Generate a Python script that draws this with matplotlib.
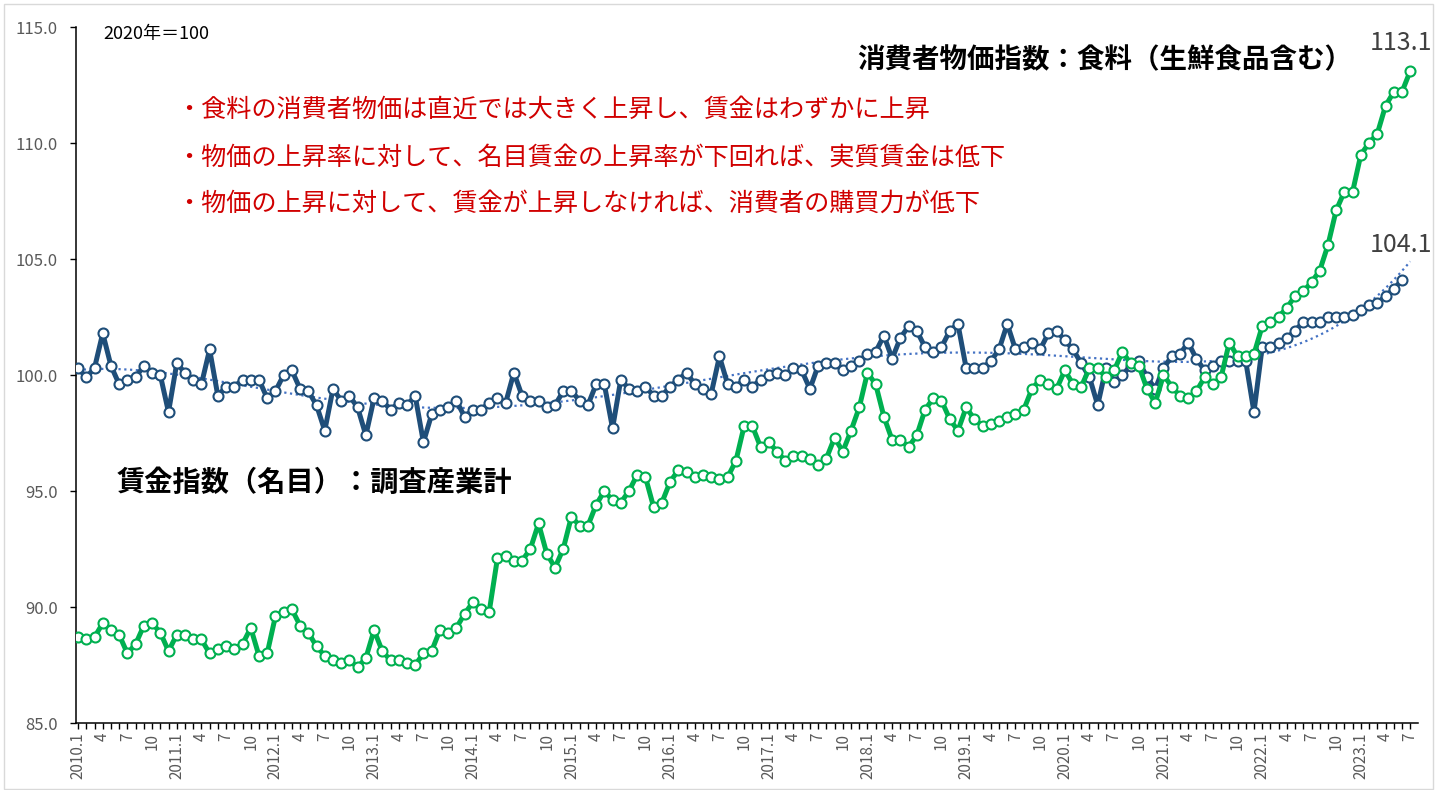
import numpy as np
import matplotlib
matplotlib.use("Agg")
import matplotlib.pyplot as plt
from matplotlib.patches import Rectangle

plt.rcParams['font.family'] = ['Noto Sans CJK JP', 'DejaVu Sans']

# ---------------- data ----------------
start_year = 2010

# 賃金指数（名目）：調査産業計  2010.1 - 2023.6
wage = [
    100.3, 99.9, 100.3, 101.8, 100.4, 99.6, 99.8, 99.9, 100.4, 100.1, 100.0, 98.4,   # 2010
    100.5, 100.1, 99.8, 99.6, 101.1, 99.1, 99.5, 99.5, 99.8, 99.8, 99.8, 99.0,       # 2011
    99.3, 100.0, 100.2, 99.4, 99.3, 98.7, 97.6, 99.4, 98.9, 99.1, 98.6, 97.4,        # 2012
    99.0, 98.9, 98.5, 98.8, 98.7, 99.1, 97.1, 98.3, 98.5, 98.6, 98.9, 98.2,          # 2013
    98.5, 98.5, 98.8, 99.0, 98.8, 100.1, 99.1, 98.9, 98.9, 98.6, 98.7, 99.3,         # 2014
    99.3, 98.9, 98.7, 99.6, 99.6, 97.7, 99.8, 99.4, 99.3, 99.5, 99.1, 99.1,          # 2015
    99.5, 99.8, 100.1, 99.6, 99.4, 99.2, 100.8, 99.6, 99.5, 99.8, 99.5, 99.8,        # 2016
    100.0, 100.1, 100.0, 100.3, 100.2, 99.4, 100.4, 100.5, 100.5, 100.2, 100.4, 100.6,  # 2017
    100.9, 101.0, 101.7, 100.7, 101.6, 102.1, 101.9, 101.2, 101.0, 101.2, 101.9, 102.2,  # 2018
    100.3, 100.3, 100.3, 100.6, 101.1, 102.2, 101.1, 101.2, 101.4, 101.1, 101.8, 101.9,  # 2019
    101.5, 101.1, 100.5, 99.9, 98.7, 100.3, 99.7, 100.0, 100.4, 100.6, 99.9, 99.4,   # 2020
    100.3, 100.8, 100.9, 101.4, 100.7, 100.2, 100.4, 100.6, 100.6, 100.6, 100.6, 98.4,  # 2021
    101.2, 101.2, 101.4, 101.6, 101.9, 102.3, 102.3, 102.3, 102.5, 102.5, 102.5, 102.6,  # 2022
    102.8, 103.0, 103.1, 103.4, 103.7, 104.1,                                          # 2023
]

# 消費者物価指数：食料（生鮮食品含む）  2010.1 - 2023.7
food_cpi = [
    88.7, 88.6, 88.7, 89.3, 89.0, 88.8, 88.0, 88.4, 89.2, 89.3, 88.9, 88.1,   # 2010
    88.8, 88.8, 88.6, 88.6, 88.0, 88.2, 88.3, 88.2, 88.4, 89.1, 87.9, 88.0,   # 2011
    89.6, 89.8, 89.9, 89.2, 88.9, 88.3, 87.9, 87.7, 87.6, 87.7, 87.4, 87.8,   # 2012
    89.0, 88.1, 87.7, 87.7, 87.6, 87.5, 88.0, 88.1, 89.0, 88.9, 89.1, 89.7,   # 2013
    90.2, 89.9, 89.8, 92.1, 92.2, 92.0, 92.0, 92.5, 93.6, 92.3, 91.7, 92.5,   # 2014
    93.9, 93.5, 93.5, 94.4, 95.0, 94.6, 94.5, 95.0, 95.7, 95.6, 94.3, 94.5,   # 2015
    95.4, 95.9, 95.8, 95.6, 95.7, 95.6, 95.5, 95.6, 96.3, 97.8, 97.8, 96.9,   # 2016
    97.1, 96.7, 96.3, 96.5, 96.5, 96.4, 96.1, 96.4, 97.3, 96.7, 97.6, 98.6,   # 2017
    100.1, 99.6, 98.2, 97.2, 97.2, 96.9, 97.4, 98.5, 99.0, 98.9, 98.1, 97.6,  # 2018
    98.6, 98.1, 97.8, 97.9, 98.0, 98.2, 98.3, 98.5, 99.4, 99.8, 99.6, 99.4,   # 2019
    100.2, 99.6, 99.5, 100.3, 100.3, 99.9, 100.2, 101.0, 100.5, 100.4, 99.4, 98.8,   # 2020
    100.0, 99.5, 99.1, 99.0, 99.3, 99.9, 99.6, 99.9, 101.4, 100.8, 100.8, 100.9,     # 2021
    102.1, 102.3, 102.5, 102.9, 103.4, 103.6, 104.0, 104.5, 105.6, 107.1, 107.9, 107.9,  # 2022
    109.5, 110.0, 110.4, 111.6, 112.2, 112.2, 113.1,                                  # 2023
]

y_ticks = [85.0, 90.0, 95.0, 100.0, 105.0, 110.0, 115.0]

# ---------------- figure ----------------
W, H = 1435, 790
fig = plt.figure(figsize=(W / 100, H / 100), dpi=100)
fig.patch.set_facecolor('white')
fig.patches.append(Rectangle((4 / W, 1 / H), (W - 6) / W, (H - 5) / H,
                             transform=fig.transFigure, fill=False,
                             edgecolor='#D9D9D9', linewidth=1.0))

ax = fig.add_axes([76 / W, 67 / H, (1418 - 76) / W, 696 / H])

n_food = len(food_cpi)
x_wage = np.arange(len(wage))
x_food = np.arange(n_food)

# polynomial trend line of wage (Excel-style order-6 trendline)
poly = np.polynomial.Polynomial.fit(x_wage, wage, 6)
x_tr = np.linspace(0, n_food - 1, 400)
ax.plot(x_tr, poly(x_tr), linestyle=(0, (1, 1.6)), color='#4472C4',
        linewidth=1.6, zorder=2)

navy = '#1F4E79'
green = '#00B050'
ax.plot(x_wage, wage, color=navy, linewidth=3.6, marker='o', markersize=7.2,
        markerfacecolor='white', markeredgecolor=navy, markeredgewidth=1.5,
        zorder=3)
ax.plot(x_food, food_cpi, color=green, linewidth=3.6, marker='o', markersize=7.2,
        markerfacecolor='white', markeredgecolor=green, markeredgewidth=1.5,
        zorder=4)

ax.set_ylim(85, 115)
ax.set_xlim(-0.25, n_food - 1 + 0.95)
ax.set_yticks(y_ticks)
ax.set_yticklabels([f'{v:.1f}' for v in y_ticks])

# x ticks: every month, labels every 3 months
ax.set_xticks(np.arange(n_food), minor=True)
maj = np.arange(0, n_food, 3)
labels = []
for k in maj:
    yy = start_year + k // 12
    mm = k % 12 + 1
    labels.append(f'{yy}.1' if mm == 1 else str(mm))
ax.set_xticks(maj)
ax.set_xticklabels(labels, rotation=90)

for s in ['top', 'right']:
    ax.spines[s].set_visible(False)
for s in ['left', 'bottom']:
    ax.spines[s].set_color('black')
    ax.spines[s].set_linewidth(1.1)

ax.tick_params(axis='both', which='both', direction='out', length=4,
               width=1.0, color='black', labelcolor='#595959', labelsize=11)
ax.tick_params(axis='x', which='both', pad=3)
ax.tick_params(axis='y', pad=9, labelsize=12)

# ---------------- texts ----------------
def ftext(x, y, s, **kw):
    fig.text(x / W, 1 - y / H, s, **kw)

ftext(103, 34, '2020年＝100', fontsize=13, color='black', va='center', ha='left')
ftext(1352, 60, '消費者物価指数：食料（生鮮食品含む）', fontsize=19.8, fontweight='bold',
      color='black', va='center', ha='right')
ftext(117, 483, '賃金指数（名目）：調査産業計', fontsize=20.3, fontweight='bold',
      color='black', va='center', ha='left')

red = '#D00000'
ftext(176, 110, '・食料の消費者物価は直近では大きく上昇し、賃金はわずかに上昇',
      fontsize=18.1, color=red, va='center', ha='left')
ftext(176, 158, '・物価の上昇率に対して、名目賃金の上昇率が下回れば、実質賃金は低下',
      fontsize=18.1, color=red, va='center', ha='left')
ftext(176, 204, '・物価の上昇に対して、賃金が上昇しなければ、消費者の購買力が低下',
      fontsize=18.1, color=red, va='center', ha='left')

ftext(1432, 43, f'{food_cpi[-1]:.1f}', fontsize=18, color='#404040',
      va='center', ha='right')
ftext(1432, 245, f'{wage[-1]:.1f}', fontsize=18, color='#404040',
      va='center', ha='right')

fig.savefig('out.png', dpi=100)
